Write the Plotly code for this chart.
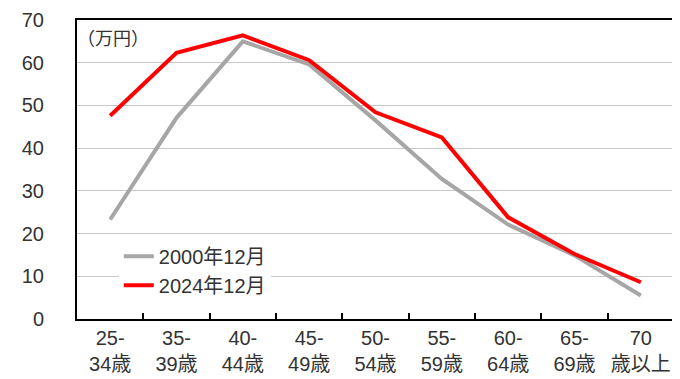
import plotly.graph_objects as go

categories = ["25-<br>34歳", "35-<br>39歳", "40-<br>44歳", "45-<br>49歳", "50-<br>54歳",
              "55-<br>59歳", "60-<br>64歳", "65-<br>69歳", "70<br>歳以上"]
series_2000 = [23.3, 47.1, 65.0, 59.6, 46.5, 32.8, 22.1, 14.9, 5.5]
series_2024 = [47.6, 62.3, 66.4, 60.6, 48.4, 42.5, 23.8, 15.2, 8.6]
name_2000 = "2000年12月"
name_2024 = "2024年12月"
unit_label = "（万円）"
y_ticks = [0, 10, 20, 30, 40, 50, 60, 70]

FONT = "Liberation Sans, Arial, Noto Sans CJK JP, sans-serif"
TXT = "#333333"

fig = go.Figure()
fig.add_trace(go.Scatter(x=categories, y=series_2000, mode="lines", name=name_2000,
                         line=dict(color="#A6A6A6", width=4)))
fig.add_trace(go.Scatter(x=categories, y=series_2024, mode="lines", name=name_2024,
                         line=dict(color="#FF0000", width=4)))

fig.update_layout(
    width=680, height=379,
    margin=dict(l=69, r=14, t=12, b=68, autoexpand=False),
    paper_bgcolor="white", plot_bgcolor="white",
    font=dict(family=FONT, size=20, color=TXT),
    showlegend=True,
    legend=dict(x=0.07, y=0.275, xanchor="left", yanchor="top",
                bgcolor="white", borderwidth=0,
                font=dict(family=FONT, size=20, color=TXT),
                tracegroupgap=0, itemwidth=30),
    annotations=[dict(text=unit_label, xref="paper", yref="paper", x=-0.003, y=0.935,
                      xanchor="left", yanchor="middle", showarrow=False,
                      font=dict(family=FONT, size=18, color=TXT))],
)
fig.update_xaxes(range=[-0.5, 8.5], showgrid=False, showline=True, linecolor="black", linewidth=2,
                 mirror=True, ticks="inside", tickson="boundaries", ticklen=6, tickcolor="black",
                 tickwidth=2, tickangle=0, automargin=False,
                 tickfont=dict(family=FONT, size=20, color=TXT))
fig.update_yaxes(range=[0, 70], tickvals=y_ticks, showgrid=True, gridcolor="#C8C8C8", gridwidth=1,
                 showline=True, linecolor="black", linewidth=2, mirror=True, automargin=False,
                 ticks="outside", ticklen=0, ticklabelstandoff=27, zeroline=False,
                 tickfont=dict(family=FONT, size=20, color=TXT))

fig.write_html("out.html")
